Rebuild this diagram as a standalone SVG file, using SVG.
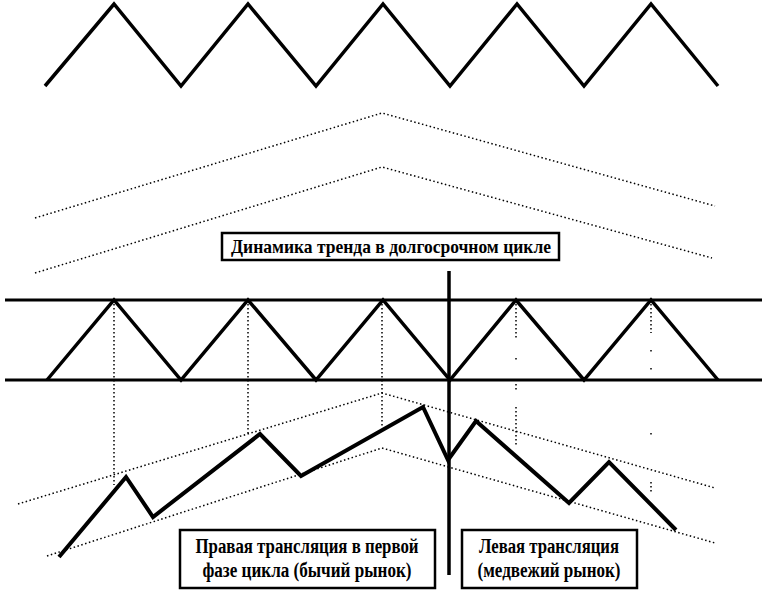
<svg xmlns="http://www.w3.org/2000/svg" width="768" height="596" viewBox="0 0 768 596">
<style>
.thick{fill:none;stroke:#000;stroke-width:3.5;stroke-linejoin:miter;stroke-linecap:butt}
.rule{fill:none;stroke:#000;stroke-width:3}
.dot{fill:none;stroke:#000;stroke-width:1.5;stroke-dasharray:1.5 2.5}
.box{fill:#fff;stroke:#000;stroke-width:2.5}
.lbl{font-family:"Liberation Serif","Times New Roman",serif;font-size:19px;font-weight:bold;fill:#000;text-anchor:middle}
</style>
<rect width="768" height="596" fill="#fff"/>
<g id="top-zigzag">
<polyline class="thick" points="45,86 114,4 181,86 248,4 316,86 383,4 450,86 517,4 584,86 651,4 718,86"/>
</g>
<g id="long-cycle-channel">
<polyline class="dot" points="35,218 382,113 715,206"/>
<polyline class="dot" points="35,273 382,167 712,258"/>
</g>
<g id="middle">
<line class="rule" x1="5" y1="300" x2="762" y2="300"/>
<line class="rule" x1="5" y1="380" x2="762" y2="380"/>
<polyline class="thick" points="47,380 114,300 181,380 248,300 316,380 383,300 450,380 516,300 584,380 651,300 718,380"/>
</g>
<g id="guides">
<line class="dot" x1="114" y1="300" x2="114" y2="485"/>
<line class="dot" x1="248" y1="300" x2="248" y2="435"/>
<line class="dot" x1="382" y1="300" x2="382" y2="427"/>
<line class="dot" x1="516" y1="300" x2="516" y2="340"/>
<line class="dot" x1="516" y1="358" x2="516" y2="362"/>
<line class="dot" x1="516" y1="384" x2="516" y2="392"/>
<line class="dot" x1="516" y1="407" x2="516" y2="447"/>
<line class="dot" x1="651" y1="300" x2="651" y2="333"/>
<line class="dot" x1="651" y1="350" x2="651" y2="354"/>
<line class="dot" x1="651" y1="368" x2="651" y2="372"/>
<line class="dot" x1="651" y1="433" x2="651" y2="437"/>
<line class="dot" x1="651" y1="482" x2="651" y2="493"/>
</g>
<g id="bottom-channels">
<polyline class="dot" points="18,504 382,393 715,488"/>
<polyline class="dot" points="47,556 382,448 715,543"/>
</g>
<g id="price-path">
<polyline class="thick" style="stroke-width:4" points="59,557 126,477 153,517 260,434 301,476 423,407 448,460 476,421 569,503 609,462 676,530"/>
</g>
<g id="divider">
<line x1="449" y1="271" x2="449" y2="575" stroke="#000" stroke-width="3.5"/>
</g>
<g id="label-long-cycle">
<rect class="box" x="222" y="233" width="337" height="27"/>
<text class="lbl" x="391" y="253" textLength="320" lengthAdjust="spacingAndGlyphs">Динамика тренда в долгосрочном цикле</text>
</g>
<g id="label-bull">
<rect class="box" x="180" y="530" width="255" height="58"/>
<text class="lbl" x="307" y="553" style="font-size:20px" textLength="223" lengthAdjust="spacingAndGlyphs">Правая трансляция в первой</text>
<text class="lbl" x="307" y="577" style="font-size:20px" textLength="209" lengthAdjust="spacingAndGlyphs">фазе цикла (бычий рынок)</text>
</g>
<g id="label-bear">
<rect class="box" x="462" y="530" width="175" height="58"/>
<text class="lbl" x="549" y="553" style="font-size:20px" textLength="140" lengthAdjust="spacingAndGlyphs">Левая трансляция</text>
<text class="lbl" x="549" y="577" style="font-size:20px" textLength="143" lengthAdjust="spacingAndGlyphs">(медвежий рынок)</text>
</g>
</svg>
